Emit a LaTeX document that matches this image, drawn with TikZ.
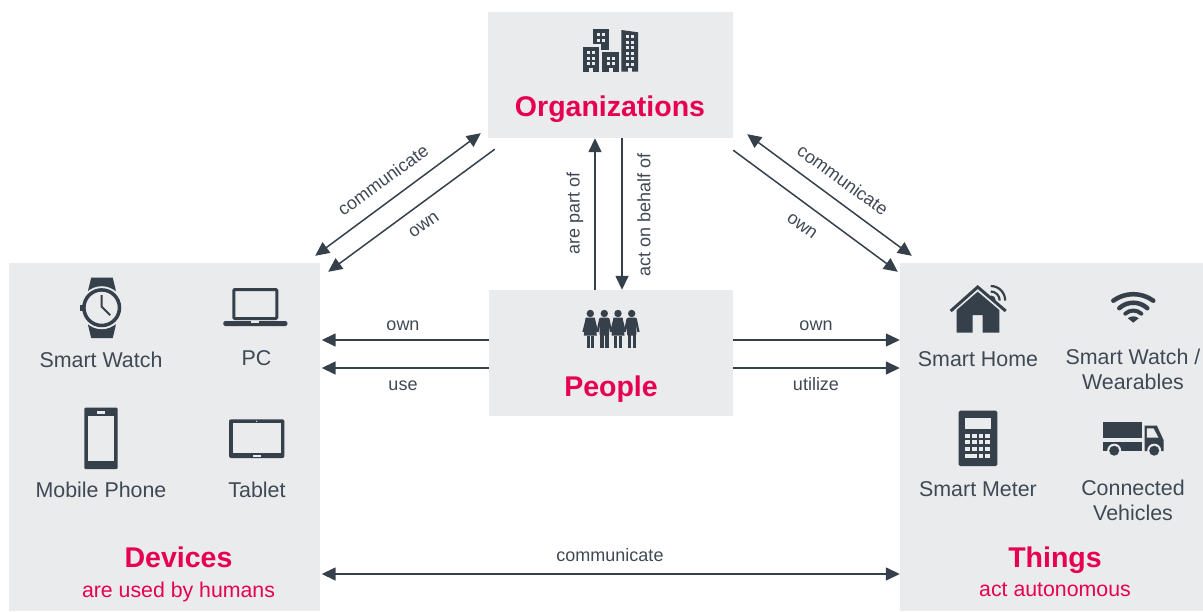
\documentclass[tikz,border=0pt]{standalone}
\usepackage{fontspec}
\setmainfont{Liberation Sans}
\usetikzlibrary{arrows.meta}
\definecolor{panel}{HTML}{E9EBED}
\definecolor{slate}{HTML}{36404B}
\definecolor{ink}{HTML}{3F4954}
\definecolor{magenta}{HTML}{E6004F}
\tikzset{
    box/.style={fill=panel, inner sep=0pt},
    item/.style={text=ink, align=center, font=\fontsize{21.4}{25}\selectfont},
    lab/.style={text=ink, inner sep=1pt, font=\fontsize{18}{20}\selectfont},
    head/.style={text=magenta, font=\bfseries\fontsize{28.5}{32}\selectfont},
    sub/.style={text=magenta, font=\fontsize{21.3}{25}\selectfont},
    one/.style={draw=slate, line width=1.5pt, -{Triangle[length=14pt,width=13pt]}},
    both/.style={draw=slate, line width=1.5pt, {Triangle[length=14pt,width=13pt]}-{Triangle[length=14pt,width=13pt]}},
    ico/.style={fill=slate, draw=none},
    gap/.style={fill=panel, draw=none},
    watchicon/.pic={
        \fill[ico] (-13.5,-14) -- (-13.5,-18) -- (-10.5,-30) -- (11,-30) -- (14,-18) -- (14,-14) -- cycle;
        \fill[ico] (-13.5,14) -- (-13.5,18) -- (-10.5,30.5) -- (11,30.5) -- (14,18) -- (14,14) -- cycle;
        \fill[gap] (0,0) circle (21.5);
        \draw[slate, line width=3.5pt] (0,0) circle (17.8);
        \fill[ico] (-21.5,-3) rectangle (-18,3);
        \draw[slate, line width=2pt] (0,-12.5) -- (0,-1) -- (8.5,7.5);
    },
    laptopicon/.pic={
        \draw[slate, line width=3pt, rounded corners=1pt] (-21.5,-17.5) rectangle (21.5,11.5);
        \fill[ico, rounded corners=1.5pt] (-32,14) -- (32,14) -- (32,19) -- (-32,19) -- cycle;
        \fill[gap] (-4,14) rectangle (4,15.5);
    },
    phoneicon/.pic={
        \fill[ico, rounded corners=1pt] (-16.7,-30.7) rectangle (16.7,30.6);
        \fill[gap] (-12.7,-22.7) rectangle (12.7,22.3);
        \fill[gap] (-4.2,-27) rectangle (4.2,-24.7);
    },
    tableticon/.pic={
        \fill[ico, rounded corners=2pt] (-27.7,-19.4) rectangle (27.7,19.3);
        \fill[gap] (-24,-15.4) rectangle (24,14);
        \fill[gap] (-4,16.3) rectangle (4,18.3);
        \fill[gap] (0,-17.4) circle (0.7);
    },
    homeicon/.pic={
        \draw[slate, line width=3pt] (-27,27) -- (0,3) -- (28,27);
        \fill[ico] (-21,48.7) -- (-21,26) -- (0,7.7) -- (21.6,26) -- (21.6,48.7) -- (5,48.7) -- (5,31) -- (-5,31) -- (-5,48.7) -- cycle;
        \draw[slate, line width=2.2pt] (13,2) arc (-90:0:14.5);
        \draw[slate, line width=2.2pt] (13,7.5) arc (-90:0:9);
        \draw[slate, line width=2.2pt] (13,12.5) arc (-90:0:4);
    },
    wifiicon/.pic={
        \draw[slate, line width=4.5pt, line cap=round] (-20,-22) .. controls (-8,-30.7) and (8,-30.7) .. (20,-22);
        \draw[slate, line width=4.5pt, line cap=round] (-14,-14.5) .. controls (-6,-21.8) and (6,-21.8) .. (14,-14.5);
        \draw[slate, line width=4pt, line cap=round] (-8,-9) .. controls (-3.5,-13.2) and (3.5,-13.2) .. (8,-9);
        \fill[ico] (0,0) -- (-5.5,-4.5) .. controls (-2,-7) and (2,-7) .. (5.5,-4.5) -- cycle;
    },
    metericon/.pic={
        \fill[ico, rounded corners=1.5pt] (-19.3,-27.6) rectangle (19.3,27.7);
        \fill[gap] (-12.7,-20) rectangle (12.7,-9.3);
        \foreach \kx in {0,1,2,3}
            \foreach \ky in {0,1,2}
                \fill[gap] (-12.7+6.7*\kx,-4.7+6.7*\ky) rectangle +(4.7,4);
        \fill[gap] (-12.7,15.4) rectangle +(11.4,4.6);
        \foreach \kx in {2,3}
            \fill[gap] (-12.7+6.7*\kx,15.4) rectangle +(4.7,4.6);
    },
    truckicon/.pic={
        \fill[ico] (-30.5,-15) rectangle (8.5,1.3);
        \fill[ico] (-30.5,4.7) rectangle (8.5,14);
        \fill[ico] (11.3,-11.3) -- (23.7,-11.3) -- (30.3,3) -- (30.3,14) -- (11.3,14) -- cycle;
        \fill[gap] (13.7,-8.7) -- (20.3,-8.7) -- (25.3,0.7) -- (13.7,0.7) -- cycle;
        \fill[gap] (-19,13.7) circle (7);
        \fill[gap] (21,13.7) circle (7);
        \fill[ico] (-19,13.7) circle (5);
        \fill[ico] (21,13.7) circle (5);
    },
    cityicon/.pic={
        \fill[ico] (-27.6,-3.3) rectangle (-11,21.7);
        \fill[ico] (-8,2.3) rectangle (8.7,21.7);
        \fill[ico] (-17.6,-21.3) rectangle (-1.6,-6);
        \fill[ico] (-9.6,-6) rectangle (-1.6,0);
        \fill[ico] (11,-20) -- (27.7,-17.7) -- (27.7,21.7) -- (11,21.7) -- cycle;
        \foreach \wx in {-13.6,-8.3}
            \foreach \wy in {-16.7,-11}
                \fill[gap] (\wx,\wy) rectangle +(2.8,2.8);
        \foreach \wx in {-23,-18.3}
            \foreach \wy in {1,6.7,12}
                \fill[gap] (\wx,\wy) rectangle +(2.8,2.8);
        \foreach \wx in {-3.6,2}
            \foreach \wy in {6.7,12}
                \fill[gap] (\wx,\wy) rectangle +(2.8,2.8);
        \foreach \wx in {15.4,20.7}
            \foreach \wy in {-15,-9.3,-3.7,2,7.3,12.7}
                \fill[gap] (\wx,\wy) rectangle +(2.8,2.8);
        \fill[gap] (-21,17.7) rectangle (-17.6,21.7);
        \fill[gap] (-1,17.7) rectangle (2.4,21.7);
        \fill[gap] (17.4,17.7) rectangle (21.4,21.7);
    },
    womanicon/.pic={
        \fill[ico] (0,0) circle (3.7);
        \fill[ico] (-4.5,4) -- (4.5,4) -- (6.5,22) -- (-6.5,22) -- cycle;
        \draw[slate, line width=2.2pt] (-3.5,5) -- (-6.8,18.5);
        \draw[slate, line width=2.2pt] (3.5,5) -- (6.8,18.5);
        \fill[ico] (-3.8,22) rectangle (-0.8,34.5);
        \fill[ico] (0.8,22) rectangle (3.8,34.5);
    },
    manicon/.pic={
        \fill[ico] (0,0) circle (3.7);
        \fill[ico, rounded corners=1pt] (-4.7,4) rectangle (4.7,22);
        \draw[slate, line width=2.2pt] (-4,5) -- (-6.8,18.5);
        \draw[slate, line width=2.2pt] (4,5) -- (6.8,18.5);
        \fill[ico] (-4.2,21) rectangle (-0.8,34.5);
        \fill[ico] (0.8,21) rectangle (4.2,34.5);
    }
}
\begin{document}
\begin{tikzpicture}[x=1pt, y=-1pt]
    \useasboundingbox (0,0) rectangle (1203,611);

    % boxes
    \node[box, minimum width=245pt, minimum height=126pt] (org) at (610.5,75) {};
    \node[box, minimum width=244pt, minimum height=126pt] (people) at (611,353) {};
    \node[box, minimum width=311pt, minimum height=348pt] (devices) at (164.5,437) {};
    \node[box, minimum width=303pt, minimum height=348pt] (things) at (1051.5,437) {};

    % titles
    \node[head] (orgTitle) at (610,109) {Organizations};
    \node[head] (peopleTitle) at (611,389) {People};
    \node[head] (devTitle) at (178.5,557) {Devices};
    \node[sub] (devSub) at (178.5,592) {are used by humans};
    \node[head] (thingTitle) at (1055,560) {Things};
    \node[sub] (thingSub) at (1055,590) {act autonomous};

    % icons
    \pic at (101.7,307.7) {watchicon};
    \pic at (255.3,307) {laptopicon};
    \pic at (101,438.4) {phoneicon};
    \pic at (256.7,438.7) {tableticon};
    \pic at (977.7,284) {homeicon};
    \pic at (1133.3,322.7) {wifiicon};
    \pic at (978,438.3) {metericon};
    \pic at (1133.2,437) {truckicon};
    \pic at (610.3,50) {cityicon};
    \pic at (590.3,313.5) {womanicon};
    \pic at (604.3,313.5) {manicon};
    \pic at (618,313.5) {womanicon};
    \pic at (631.7,313.5) {manicon};

    % items
    \node[item] (watch) at (101,359.5) {Smart Watch};
    \node[item] (pc) at (256.5,358.5) {PC};
    \node[item] (phone) at (101,489.5) {Mobile Phone};
    \node[item] (tablet) at (257,489.5) {Tablet};
    \node[item] (home) at (978,359.5) {Smart Home};
    \node[item] (wear) at (1133,369) {Smart Watch /\\Wearables};
    \node[item] (meter) at (978,489.5) {Smart Meter};
    \node[item] (cars) at (1133,500) {Connected\\Vehicles};

    % arrows
    \draw[both] ([xshift=-7pt,yshift=5pt]org.south west) -- ([xshift=-5pt,yshift=7pt]devices.north east);
    \draw[one] ([xshift=7pt,yshift=-11pt]org.south west) -- ([xshift=8pt,yshift=-9pt]devices.north east);
    \draw[both] ([xshift=14pt,yshift=4pt]org.south east) -- ([xshift=12pt,yshift=7pt]things.north west);
    \draw[one] ([yshift=-12pt]org.south east) -- ([xshift=-2pt,yshift=-9pt]things.north west);
    \draw[one] ([xshift=-16pt]people.north) -- ([xshift=-15.5pt]org.south);
    \draw[one] ([xshift=11.5pt]org.south) -- ([xshift=11pt]people.north);
    \draw[one] ([yshift=13pt]people.west) -- ([xshift=1.5pt,yshift=97pt]devices.east);
    \draw[one] ([yshift=-15pt]people.west) -- ([xshift=1.5pt,yshift=69pt]devices.east);
    \draw[one] ([yshift=13pt]people.east) -- ([yshift=97pt]things.west);
    \draw[one] ([yshift=-15pt]people.east) -- ([yshift=69pt]things.west);
    \draw[both] ([xshift=1.5pt,yshift=-137pt]devices.east) -- ([yshift=-137pt]things.west);

    % arrow labels
    \node[lab, rotate=36] (orgDevA) at (383,180) {communicate};
    \node[lab, rotate=36] (orgDevB) at (424,225) {own};
    \node[lab, rotate=-36] (orgThingA) at (843,180) {communicate};
    \node[lab, rotate=-36] (orgThingB) at (802,226) {own};
    \node[lab, rotate=90] (partOf) at (575,213) {are part of};
    \node[lab, rotate=90] (behalf) at (644,215) {act on behalf of};
    \node[lab] (devOwn) at (403,326) {own};
    \node[lab] (devUse) at (403,386) {use};
    \node[lab] (thingOwn) at (816,326) {own};
    \node[lab] (thingUse) at (816,384) {utilize};
    \node[lab] (talk) at (610,555) {communicate};
\end{tikzpicture}
\end{document}
